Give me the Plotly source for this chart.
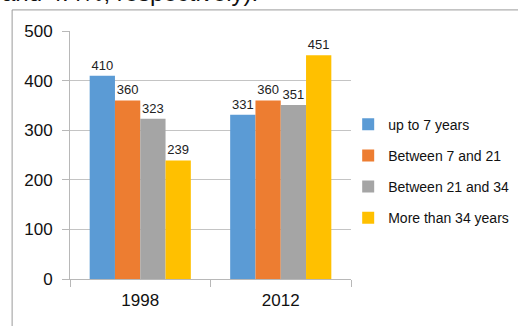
import plotly.graph_objects as go

categories = ["1998", "2012"]
series_names = ["up to 7 years", "Between 7 and 21", "Between 21 and 34", "More than 34 years"]
values = [
    [410, 331],
    [360, 360],
    [323, 351],
    [239, 451],
]
colors = ["#5b9bd5", "#ed7d31", "#a5a5a5", "#ffc000"]
y_ticks = [0, 100, 200, 300, 400, 500]

FONT = "Liberation Sans"

fig = go.Figure()
for name, vals, col in zip(series_names, values, colors):
    fig.add_trace(go.Bar(
        x=categories, y=vals, name=name, marker_color=col, marker_line_width=0,
        legendgroup=name,
        text=[str(v) for v in vals], textposition="outside",
        textfont=dict(family=FONT, size=13, color="#222222"),
        cliponaxis=False,
    ))

fig.update_layout(
    width=518, height=326,
    margin=dict(l=70, r=167, t=31, b=47, autoexpand=False),
    paper_bgcolor="white", plot_bgcolor="white",
    barmode="group", bargap=0.28, bargroupgap=0,
    font=dict(family=FONT, color="#222222"),
    showlegend=True,
    legend=dict(x=0.99, y=0.435, xanchor="left", yanchor="middle",
                font=dict(family=FONT, size=14, color="#111111"),
                itemwidth=30, tracegroupgap=10, bgcolor="rgba(0,0,0,0)"),
)
fig.update_yaxes(range=[0, 500], tickvals=y_ticks, showgrid=True, gridcolor="#c4c4c4",
                 gridwidth=1, showline=True, linecolor="#b8b8b8", ticks="outside",
                 ticklen=7, tickcolor="#b8b8b8", tickfont=dict(size=17, color="#111111"),
                 ticklabelstandoff=6,
                 zeroline=False, fixedrange=True)
fig.update_xaxes(showline=True, linecolor="#b8b8b8", ticks="outside", tickson="boundaries",
                 ticklen=7, tickcolor="#b8b8b8", tickfont=dict(size=17, color="#111111"),
                 ticklabelstandoff=6, showgrid=False)

fig.add_shape(type="rect", xref="paper", yref="paper", x0=-0.206, y0=-0.3, x1=1.7, y1=1.085,
              line=dict(color="#9a9a9a", width=1), fillcolor="rgba(0,0,0,0)", layer="below")
fig.add_annotation(text="and 4.4%, respectively).", xref="paper", yref="paper",
                   x=-0.25, y=1.093, xanchor="left", yanchor="bottom", showarrow=False,
                   font=dict(family=FONT, size=24, color="#111111"))

fig.write_html("out.html")
